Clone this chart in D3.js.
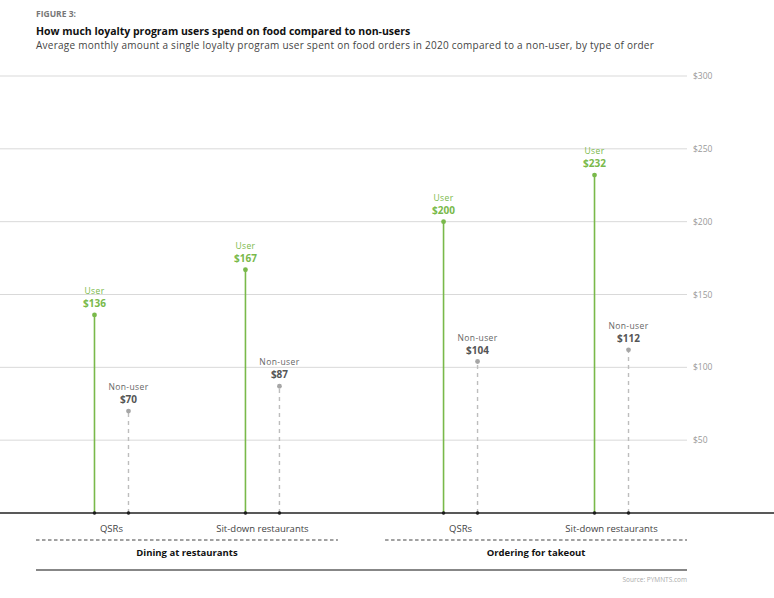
<!DOCTYPE html>
<html lang="en">
<head>
<meta charset="UTF-8">
<title>Figure 3</title>
<script src="https://cdn.jsdelivr.net/npm/d3@7/dist/d3.min.js"></script>
<style>
  body { margin: 0; background: #fff; }
  text { font-family: "Open Sans", sans-serif; }
</style>
</head>
<body>
<div id="chart"></div>
<script>

var groups = ["Dining at restaurants", "Ordering for takeout"];
var categories = ["QSRs", "Sit-down restaurants"];
var series = ["User", "Non-user"];
// [group][category] values
var userValues = [[136, 167], [200, 232]];
var nonUserValues = [[70, 87], [104, 112]];
var yTicks = [50, 100, 150, 200, 250, 300];

var w = 774, h = 598;
var green = "#79b94a", gray = "#a6a6a6";

var svg = d3.select("#chart").append("svg")
    .attr("width", w)
    .attr("height", h);

var y = d3.scaleLinear().domain([0, 300]).range([513, 76]);
var xg = d3.scaleBand().domain(groups).range([36, 687]).paddingInner(0.135);
var xc = d3.scalePoint().domain(categories).range([0, xg.bandwidth()]).padding(0.5);
var xs = d3.scalePoint().domain(series).range([-17, 17]);

// titles
svg.append("text").attr("x", 36).attr("y", 17)
    .style("font-size", "8.5px").style("font-weight", 700).attr("fill", "#777")
    .text("FIGURE 3:");
svg.append("text").attr("x", 36).attr("y", 35)
    .style("font-size", "10.5px").style("font-weight", 700).attr("fill", "#111")
    .text("How much loyalty program users spend on food compared to non-users");
svg.append("text").attr("x", 36).attr("y", 49)
    .style("font-size", "10px").style("letter-spacing", "0.25px").attr("fill", "#444")
    .text("Average monthly amount a single loyalty program user spent on food orders in 2020 compared to a non-user, by type of order");

// gridlines
var grid = svg.append("g");
grid.selectAll("line").data(yTicks).enter().append("line")
    .attr("x1", 0).attr("x2", 687)
    .attr("y1", function(d) { return y(d); })
    .attr("y2", function(d) { return y(d); })
    .attr("stroke", "#d9d9d9").attr("stroke-width", 1);
grid.selectAll("text").data(yTicks).enter().append("text")
    .attr("x", 693).attr("y", function(d) { return y(d) + 3; })
    .style("font-size", "8.5px").attr("fill", "#999")
    .text(function(d) { return "$" + d; });

// build point table
var points = [];
groups.forEach(function(g, gi) {
    categories.forEach(function(c, ci) {
        points.push({ g: g, c: c, s: "User", v: userValues[gi][ci] });
        points.push({ g: g, c: c, s: "Non-user", v: nonUserValues[gi][ci] });
    });
});
function px(d) { return xg(d.g) + xc(d.c) + xs(d.s); }

var stems = svg.append("g");
stems.selectAll("line").data(points).enter().append("line")
    .attr("x1", px).attr("x2", px)
    .attr("y1", y(0))
    .attr("y2", function(d) { return y(d.v); })
    .attr("stroke", function(d) { return d.s == "User" ? green : "#bdbdbd"; })
    .attr("stroke-width", function(d) { return d.s == "User" ? 1.6 : 1.4; })
    .attr("stroke-dasharray", function(d) { return d.s == "User" ? null : "4,4"; });

// baseline
svg.append("line").attr("x1", 0).attr("x2", w).attr("y1", y(0)).attr("y2", y(0))
    .attr("stroke", "#222").attr("stroke-width", 1.3);

stems.selectAll("circle.base").data(points).enter().append("circle")
    .attr("class", "base")
    .attr("cx", px).attr("cy", y(0)).attr("r", 1.8).attr("fill", "#111");

stems.selectAll("circle.top").data(points).enter().append("circle")
    .attr("class", "top")
    .attr("cx", px).attr("cy", function(d) { return y(d.v); }).attr("r", 2.4)
    .attr("fill", function(d) { return d.s == "User" ? green : gray; });

// labels
stems.selectAll("text.lab").data(points).enter().append("text")
    .attr("class", "lab")
    .attr("x", px).attr("y", function(d) { return y(d.v) - 21; })
    .attr("text-anchor", "middle")
    .style("font-size", "8.5px").style("letter-spacing", "0.4px")
    .attr("fill", function(d) { return d.s == "User" ? green : "#666"; })
    .text(function(d) { return d.s; });
stems.selectAll("text.val").data(points).enter().append("text")
    .attr("class", "val")
    .attr("x", px).attr("y", function(d) { return y(d.v) - 8; })
    .attr("text-anchor", "middle")
    .style("font-size", "10px").style("font-weight", 700)
    .attr("fill", function(d) { return d.s == "User" ? green : "#555"; })
    .text(function(d) { return "$" + d.v; });

// category and group axis
var gAxis = svg.append("g").selectAll("g").data(groups).enter().append("g")
    .attr("transform", function(d) { return "translate(" + xg(d) + ",0)"; });
gAxis.selectAll("text.cat").data(categories).enter().append("text")
    .attr("class", "cat")
    .attr("x", function(d) { return xc(d); }).attr("y", 532)
    .attr("text-anchor", "middle")
    .style("font-size", "9.5px").attr("fill", "#444")
    .text(function(d) { return d; });
gAxis.append("line")
    .attr("x1", 0).attr("x2", xg.bandwidth()).attr("y1", 540).attr("y2", 540)
    .attr("stroke", "#444").attr("stroke-width", 1.2).attr("stroke-dasharray", "3.5,2.5");
gAxis.append("text")
    .attr("x", xg.bandwidth() / 2).attr("y", 556)
    .attr("text-anchor", "middle")
    .style("font-size", "9.5px").style("font-weight", 700).attr("fill", "#111")
    .text(function(d) { return d; });

svg.append("line").attr("x1", 36).attr("x2", 687).attr("y1", 570).attr("y2", 570)
    .attr("stroke", "#111").attr("stroke-width", 1.2);

svg.append("text").attr("x", 687).attr("y", 582).attr("text-anchor", "end")
    .style("font-size", "6.5px").attr("fill", "#aaa")
    .text("Source: PYMNTS.com");

</script>
</body>
</html>
